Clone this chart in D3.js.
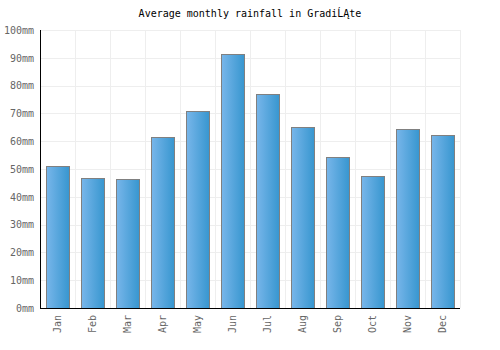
<!DOCTYPE html>
<html><head><meta charset="utf-8">
<script src="https://cdn.jsdelivr.net/npm/d3@7"></script>
<style>body{margin:0;background:#fff}svg{display:block}</style>
</head><body>
<script>
const months = ["Jan","Feb","Mar","Apr","May","Jun","Jul","Aug","Sep","Oct","Nov","Dec"];
const rainfall = [51.1, 46.8, 46.4, 61.5, 70.9, 91.3, 77.1, 65.1, 54.3, 47.5, 64.4, 62.2];
const yTicks = [0,10,20,30,40,50,60,70,80,90,100];
const title = "Average monthly rainfall in GradiĹĄte";

const W = 500, H = 350;
const m = {left: 40, right: 40, top: 30, bottom: 42};
const svg = d3.select("body").append("svg").attr("width", W).attr("height", H);
const font = "'DejaVu Sans Mono', monospace";

const x = d3.scaleBand().domain(months).range([m.left, W - m.right]).paddingInner(0.33).paddingOuter(0.165);
const xg = d3.scaleBand().domain(months).range([m.left, W - m.right]);
const y = d3.scaleLinear().domain([0, 100]).range([H - m.bottom, m.top]);

const defs = svg.append("defs");
const grad = defs.append("linearGradient").attr("id", "bg").attr("x1", "0").attr("x2", "1").attr("y1", "0").attr("y2", "0");
grad.append("stop").attr("offset", "0").attr("stop-color", "#78b6ea");
grad.append("stop").attr("offset", "1").attr("stop-color", "#3796cf");

// grid
svg.append("g").selectAll("line").data(yTicks).join("line")
  .attr("x1", m.left).attr("x2", W - m.right)
  .attr("y1", d => Math.round(y(d)) + 0.5).attr("y2", d => Math.round(y(d)) + 0.5)
  .attr("stroke", "#eeeeee");
svg.append("g").selectAll("line").data(months).join("line")
  .attr("x1", (d, i) => Math.round(xg(d) + xg.step()) + 0.5)
  .attr("x2", (d, i) => Math.round(xg(d) + xg.step()) + 0.5)
  .attr("y1", m.top).attr("y2", H - m.bottom)
  .attr("stroke", "#eeeeee");

// bars
svg.append("g").selectAll("rect").data(rainfall).join("rect")
  .attr("x", (d, i) => Math.round(x(months[i])) + 0.5)
  .attr("width", Math.round(x.bandwidth()))
  .attr("y", d => Math.round(y(d)) + 0.5)
  .attr("height", d => Math.round(y(0)) - Math.round(y(d)))
  .attr("fill", "url(#bg)")
  .attr("stroke", "#808080").attr("stroke-width", 1);

// y axis
const yAxis = d3.axisLeft(y).tickValues(yTicks).tickSize(0).tickPadding(6).tickFormat(d => d + "mm");
const ya = svg.append("g").attr("transform", `translate(${m.left},0)`).call(yAxis);
ya.select(".domain").remove();
ya.selectAll("text").attr("fill", "#666").attr("font-family", font).attr("font-size", 10);

// x axis
const xAxis = d3.axisBottom(x).tickSize(0).tickPadding(0);
const xa = svg.append("g").attr("transform", `translate(0,${H - m.bottom})`).call(xAxis);
xa.select(".domain").remove();
xa.selectAll("text")
  .attr("fill", "#666").attr("font-family", font).attr("font-size", 10)
  .attr("transform", "rotate(-90)")
  .attr("text-anchor", "end").attr("x", -7).attr("y", 0).attr("dy", "0.35em");

// axis lines
svg.append("line").attr("x1", m.left + 0.5).attr("x2", m.left + 0.5)
  .attr("y1", m.top).attr("y2", H - m.bottom + 1).attr("stroke", "#000");
svg.append("line").attr("x1", m.left).attr("x2", W - m.right)
  .attr("y1", Math.round(y(0)) + 0.5).attr("y2", Math.round(y(0)) + 0.5).attr("stroke", "#000");

// title
svg.append("text").attr("x", W / 2).attr("y", 17).attr("text-anchor", "middle")
  .attr("font-family", font).attr("font-size", 10).attr("fill", "#000").text(title);
</script>
</body></html>
